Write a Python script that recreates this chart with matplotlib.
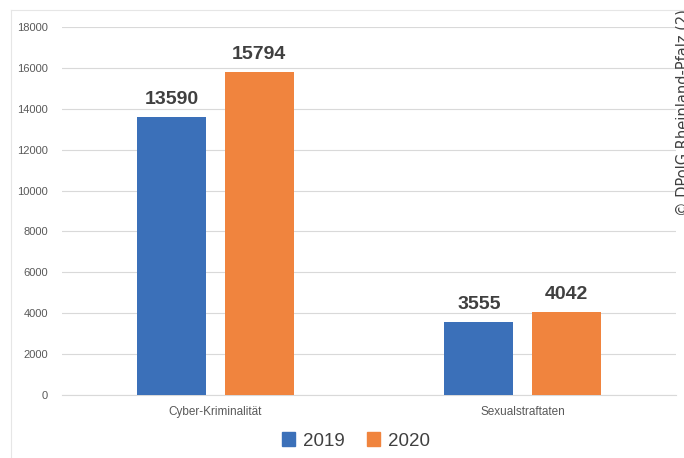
import matplotlib.pyplot as plt
import numpy as np
from matplotlib.patches import Patch

categories = ["Cyber-Kriminalität", "Sexualstraftaten"]
years = ["2019", "2020"]
values_2019 = [13590, 3555]
values_2020 = [15794, 4042]
colors = ["#3B70B9", "#F0843E"]

plt.rcParams['font.family'] = ['Liberation Sans', 'DejaVu Sans']

fig = plt.figure(figsize=(6.84, 4.58), dpi=100)
ax = fig.add_axes([62 / 684, 1 - 395 / 458, 614 / 684, 368 / 458])

x = np.arange(len(categories))
width = 0.225
offset = 0.142
for vals, col, shift in [(values_2019, colors[0], -offset), (values_2020, colors[1], offset)]:
    bars = ax.bar(x + shift, vals, width, color=col, zorder=3)
    for b, v in zip(bars, vals):
        ax.text(b.get_x() + b.get_width() / 2, v + 450, str(v), ha='center', va='bottom',
                fontsize=14, fontweight='bold', color='#404040')

ax.set_xlim(-0.5, 1.5)
ax.set_ylim(0, 18000)
ax.set_yticks(np.arange(0, 18001, 2000))
ax.set_xticks(x)
ax.set_xticklabels(categories)
ax.tick_params(axis='both', length=0, colors='#595959')
ax.tick_params(axis='y', pad=10, labelsize=8)
ax.tick_params(axis='x', pad=8, labelsize=8.5)
ax.grid(axis='y', color='#D9D9D9', linewidth=0.8, zorder=0)
for s in ['top', 'right', 'left']:
    ax.spines[s].set_visible(False)
ax.spines['bottom'].set_color('#D9D9D9')

handles = [Patch(color=c, label=y) for c, y in zip(colors, years)]
fig.legend(handles=handles, loc='center', bbox_to_anchor=(356 / 684, 1 - 441 / 458), ncol=2,
           frameon=False, fontsize=13.5, handlelength=0.7, handleheight=0.7,
           handletextpad=0.4, columnspacing=1.2, labelcolor='#404040')

# light outer frame
fig.add_artist(plt.Line2D([11 / 684, 11 / 684], [0, 1 - 10 / 458], color='#E6E6E6', lw=0.8))
fig.add_artist(plt.Line2D([11 / 684, 1], [1 - 10 / 458, 1 - 10 / 458], color='#E6E6E6', lw=0.8))

# watermark, partly cut off at the right edge as in the original
fig.text(676 / 684, 1 - 216 / 458, "© DPolG Rheinland-Pfalz (2)", rotation=90,
         ha='left', va='bottom', fontsize=10.5, color='#404040', family='DejaVu Sans')

fig.savefig("out.png", dpi=100)
